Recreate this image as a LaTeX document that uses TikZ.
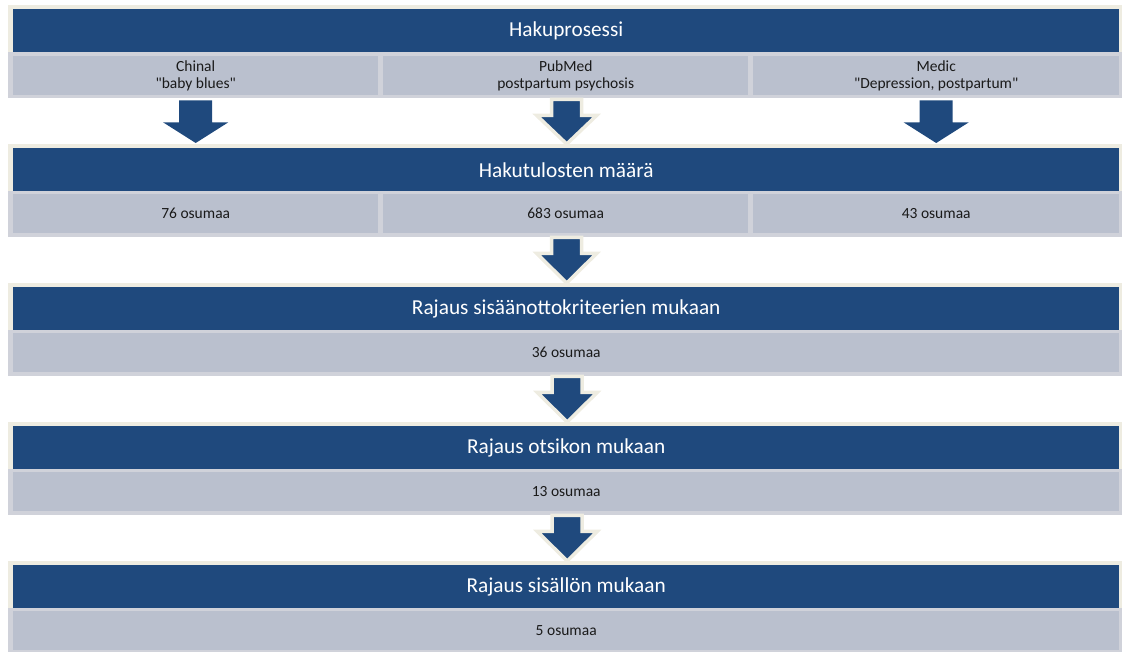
\documentclass[tikz,border=0pt]{standalone}
\usepackage{fontspec}
\setmainfont{Carlito}[Ligatures=TeXOff]
\usetikzlibrary{calc}
\definecolor{hdrblue}{HTML}{1F497D}
\definecolor{cream}{HTML}{EEECE1}
\definecolor{subfill}{HTML}{BAC0CE}
\definecolor{subband}{HTML}{D0D2DA}
\definecolor{txt}{HTML}{1A1A1A}
\tikzset{
  bar/.style={fill=hdrblue, text=white, minimum width=1106pt, minimum height=43pt, inner sep=0pt,
    font=\fontsize{21.3}{25}\selectfont, anchor=north west},
  band/.style={fill=subband, minimum width=1116pt, minimum height=46pt, inner sep=0pt, anchor=north west},
  cell/.style={fill=subfill, text=txt, minimum height=39pt, inner sep=0pt, align=center,
    font=\fontsize{15.5}{17.5}\selectfont, anchor=north west},
  crm/.style={fill=cream},
  sidearrow/.style={fill=hdrblue},
  midarrow/.style={fill=hdrblue, draw=cream, line width=3.5pt, line join=miter}
}
\begin{document}
\begin{tikzpicture}[x=1pt,y=-1pt]
\useasboundingbox (0,0) rectangle (1122,651);
% ---- row 1
\fill[crm] (8,5) rectangle (1124,52);
\node[bar] (h1) at (13,9) {Hakuprosessi};
\node[band] (b1) at (8,52) {};
\node[cell, minimum width=365pt] (c11) at (13,56) {Chinal\\"baby blues"};
\node[cell, minimum width=365pt] (c12) at (383,56) {PubMed\\postpartum psychosis};
\node[cell, minimum width=366pt] (c13) at (753,56) {Medic\\"Depression, postpartum"};
% ---- row 2
\fill[crm] (8,144) rectangle (1124,191);
\node[bar] (h2) at (13,148) {Hakutulosten määrä};
\node[band] (b2) at (8,191) {};
\node[cell, minimum width=365pt] (c21) at (13,194) {76 osumaa};
\node[cell, minimum width=365pt] (c22) at (383,194) {683 osumaa};
\node[cell, minimum width=366pt] (c23) at (753,194) {43 osumaa};
% ---- row 3
\fill[crm] (8,283) rectangle (1124,330);
\node[bar] (h3) at (13,287) {Rajaus sisäänottokriteerien mukaan};
\node[band] (b3) at (8,330) {};
\node[cell, minimum width=1106pt] (c3) at (13,333) {36 osumaa};
% ---- row 4
\fill[crm] (8,422) rectangle (1124,469);
\node[bar] (h4) at (13,426) {Rajaus otsikon mukaan};
\node[band] (b4) at (8,469) {};
\node[cell, minimum width=1106pt] (c4) at (13,472) {13 osumaa};
% ---- row 5
\fill[crm] (8,561) rectangle (1124,608);
\node[bar] (h5) at (13,565) {Rajaus sisällön mukaan};
\node[band] (b5) at (8,608) {};
\node[cell, minimum width=1106pt] (c5) at (13,611) {5 osumaa};
% ---- side arrows
\foreach \c in {c11,c13}{
  \fill[sidearrow] ($(\c.south)+(-16.5,5)$) -- ($(\c.south)+(16.5,5)$) -- ($(\c.south)+(16.5,27)$)
    -- ($(\c.south)+(32.5,27)$) -- ($(\c.south |- h2.north)+(0,-5)$)
    -- ($(\c.south)+(-32.5,27)$) -- ($(\c.south)+(-16.5,27)$) -- cycle;
}
% ---- middle arrows
\foreach \c/\h in {c12/h2,c22/h3,c3/h4,c4/h5}{
  \filldraw[midarrow] ($(\c.south)+(-14,4)$) -- ($(\c.south)+(16,4)$) -- ($(\c.south)+(16,20)$)
    -- ($(\c.south)+(31,20)$) -- ($(\c.south |- \h.north)+(1,-4)$)
    -- ($(\c.south)+(-29,20)$) -- ($(\c.south)+(-14,20)$) -- cycle;
}
\end{tikzpicture}
\end{document}
